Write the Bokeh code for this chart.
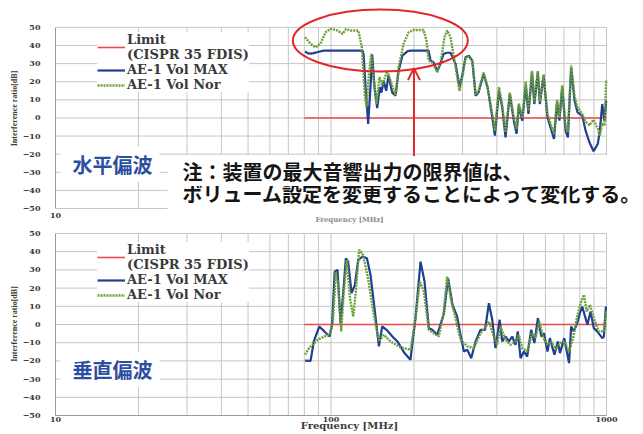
import math
from bokeh.plotting import figure
from bokeh.models import (Range1d, FixedTicker, PrintfTickFormatter, Legend, LegendItem,
                          Label, Arrow, OpenHead)
from bokeh.layouts import column
from bokeh.embed import file_html
from bokeh.resources import INLINE

# ---------------- data ----------------
y_ticks = [-50, -40, -30, -20, -10, 0, 10, 20, 30, 40, 50]
x_ticks = [10, 100, 1000]
grid_freqs = [20, 30, 40, 50, 60, 70, 80, 90, 100, 200, 300, 400, 500, 600, 700, 800, 900, 1000]

limit_freq = [80, 1000]
limit_val = [0, 0]

# 水平偏波 (horizontal polarisation)
h_max_freq = [80.5, 82.2, 84.3, 86.5, 88.9, 94.0, 130.2, 131.3, 133.5, 136.4, 139.1, 141.1, 143.8, 147.1,
              150.4, 152.5, 155.1, 158.6, 161.7, 166.8, 171.5, 175.9, 181.5, 189.3, 194.4, 225.9, 229.7,
              235.5, 242.9, 249.7, 256.1, 264.0, 271.5, 283.1, 292.7, 299.4, 307.8, 316.5, 325.6, 334.8,
              343.3, 357.8, 370.0, 384.8, 393.3, 407.0, 418.2, 430.0, 445.6, 460.8, 471.4, 480.6, 494.6,
              509.0, 520.8, 536.4, 547.0, 563.2, 572.7, 590.8, 610.5, 626.3, 644.6, 661.5, 674.5, 690.6,
              710.2, 723.9, 744.1, 765.2, 784.7, 816.4, 839.3, 866.6, 897.3, 929.3, 945.7, 964.6, 983.2, 997]
h_max_val = [36.8, 35.8, 35.5, 35.8, 36.3, 37.2, 37.2, 35, 17, -3.3, 17, 35, 17, 5.5, 17, 14, 20.6, 15,
             23.4, 14, 12.3, 26, 34.4, 36.8, 37.2, 37.2, 31.7, 30.8, 26, 30, 35.4, 36, 36, 30, 17, 23.4,
             33.5, 34.4, 31.7, 12.3, 14.2, 24.3, 17, 0.4, -9.8, 15.1, 5.9, -10.7, 13.3, -1.5, -8.8, 6.8,
             -1.5, 17.9, 2.2, 25.2, 7.7, 25.2, 7.7, 23.4, 0.4, -5.2, -11.6, 8.7, -1.5, 17, -7, -10.7, 28,
             9.6, 3.1, 1.3, -7, -13.4, -18.4, -14.4, -7, 7.7, -1.5, 9.6]
h_nor_freq = [80.5, 84.3, 87.9, 91.6, 95.6, 99.6, 105.5, 110.3, 113.2, 117.7, 125.6, 129.4, 132.7, 134.6,
              137.2, 139.9, 142.6, 146.3, 150.0, 153.4, 160.0, 164.4, 171.5, 175.9, 183.4, 191.3, 199.4,
              216.6, 222.1, 225.9, 232.9, 242.9, 249.7, 258.2, 264.0, 271.5, 283.1, 292.7, 300.0, 307.8,
              315.7, 326.4, 334.8, 343.3, 357.8, 370.0, 384.8, 393.3, 407.0, 418.2, 430.0, 445.6, 460.8,
              471.4, 480.6, 494.6, 509.0, 520.8, 536.4, 547.0, 563.2, 572.7, 590.8, 610.5, 626.3, 644.6,
              661.5, 674.5, 690.6, 710.2, 723.9, 744.1, 765.2, 784.7, 816.4, 839.3, 866.6, 897.3, 929.3,
              945.7, 964.6, 983.2, 997]
h_nor_val = [44.6, 40.9, 39, 41, 47.3, 49.2, 48.3, 46.4, 49, 48.3, 48.3, 39, 12.3, 6, 23.4, 35.4, 22.5,
             7.7, 22.5, 18, 26, 20.6, 12.3, 28, 41, 47.3, 48.6, 48.6, 42.7, 31.7, 30.8, 25.2, 30, 44.6,
             48.3, 44.6, 28, 15, 23, 33, 34, 31, 13, 15, 25, 17, 2, -7, 17, 7, -8, 14, 0, -6, 8, 0, 20, 4,
             26, 9, 26, 9, 24, 2, -3, -9, 10, 0, 18, -5, -8, 29, 12, 6, 2, -2, -4, -1, -6, -10, -3, -4, 21]

# 垂直偏波 (vertical polarisation)
v_max_freq = [80.5, 84.3, 86.6, 90.6, 94.6, 98.8, 100.9, 103.1, 105.6, 108.3, 110.8, 113.2, 115.4, 118.7,
              122.1, 125.5, 130.2, 135.0, 139.1, 143.8, 149.2, 153.4, 159.1, 167.0, 174.2, 184.8, 194.2,
              202.6, 211.3, 218.5, 226.5, 233.0, 243.0, 257.0, 266.0, 276.1, 286.8, 293.5, 303.6, 312.3,
              322.8, 334.8, 348.9, 362.3, 374.2, 384.8, 395.4, 409.3, 418.2, 430.0, 442.0, 454.7, 467.4,
              476.5, 487.4, 501.2, 515.1, 533.0, 547.0, 563.6, 580.0, 592.7, 610.5, 622.7, 647.0, 665.5,
              677.5, 702.2, 731.0, 744.1, 760.0, 782.4, 800.0, 816.4, 832.4, 852.4, 875.0, 899.0, 925.0,
              965.0, 978.0, 995]
v_max_val = [-19.9, -20, -9.3, -1.1, -3.8, -6.6, 0, 29, 30, 0.7, 18, 36.4, 34.5, 17.2, 21.8, 35.5, 37.3,
             36.4, 27.2, 9, -12, -1.1, -2.9, -6.6, -9.3, -15.7, -19.4, 3.5, 34.5, 23.6, -2, -2.9, -5.7,
             6.2, 25.4, 10.8, 4.4, -3.8, -14.8, -13.9, -18.5, -9.3, -2.9, -2.9, 11.7, 2.6, -13, 2.6, -9.3,
             -6.6, -9.3, -6.6, -11.2, -3.8, -18.5, -14.8, -17.6, -2.9, -10.2, 3.5, -6.6, -4.8, -14.8,
             -7.5, -16.6, -9.3, -15.7, -7.5, -21.2, -1.1, -3.8, 0.7, 6.2, 9.9, 5.3, 0, 7.1, -2, -3.8,
             -7.5, -6.6, 9.9]
v_nor_freq = [80.5, 83.2, 89.4, 94.6, 98.8, 101.6, 104.1, 106.2, 108.9, 111.3, 114.1, 117.2, 120.4, 123.0,
              126.5, 130.2, 133.9, 137.2, 143.0, 149.2, 155.5, 164.4, 178.8, 194.4, 202.6, 210.1, 217.3,
              226.5, 236.0, 246.0, 255.7, 264.0, 273.4, 283.1, 295.2, 312.3, 329.6, 348.9, 364.4, 374.2,
              388.1, 400.4, 412.4, 430.0, 448.3, 467.4, 480.6, 494.6, 515.1, 536.4, 553.0, 570.0, 590.8,
              610.5, 630.0, 653.0, 677.5, 702.2, 731.0, 756.0, 782.4, 804.8, 828.0, 847.0, 870.0, 899.0,
              937.0, 978.0, 995]
v_nor_val = [-16.6, -13, -8.4, -6.6, -5.7, 1.6, 29, 21.8, -3.8, 18.1, 35.5, 14.4, 4.4, 18, 41, 39, 30.9,
             22.7, 5.3, -9.3, -5.7, -9.3, -12.6, -13.9, 3.5, 23.6, 18, -2.9, -4.8, -6.6, 5.3, 26.3, 12.6,
             3.5, -8.4, -12, -13, -4.8, -1.1, 1.6, -5.7, -11.2, -1.1, -8.4, -11.2, -9.3, -5.7, -13, -14.8,
             -4.8, -7.5, 1.6, -7.5, -11.2, -9.3, -13.9, -10.2, -9.3, -14.8, -7.5, 4.4, 11.7, 16.3, 7.1,
             10.8, 3.5, -3.8, -3.8, 7.1]

legend_labels = ["Limit\n(CISPR 35 FDIS)", "AE-1 Vol MAX", "AE-1 Vol Nor"]
note_lines = ["注：装置の最大音響出力の限界値は、", "ボリューム設定を変更することによって変化する。"]

# ---------------- styles ----------------
RED = "#f0474a"
BLUE = "#1f3f93"
GREEN = "#6c9f35"
GRID = "#c6c6c6"
AXIS = "#9a9a9a"
TXT = "#3a3a3a"
JP_BLUE = "#2c4f9f"
SERIF = "DejaVu Serif"
JP = "Noto Sans CJK JP"
X_END = 1362  # frame runs on to the right edge of the page (note text overflows the axes box)


def build(p, max_f, max_v, nor_f, nor_v, pol_text, pol_y, legend_y):
    p.outline_line_color = None
    p.xgrid.visible = False
    p.ygrid.visible = False
    # grid lines (and box edges) limited to the 10-1000 MHz / -50..50 dB box
    p.segment(x0=grid_freqs, y0=[-50] * len(grid_freqs), x1=grid_freqs, y1=[50] * len(grid_freqs),
              line_color=GRID, line_width=1)
    p.segment(x0=[10] * len(y_ticks), y0=y_ticks, x1=[1000] * len(y_ticks), y1=y_ticks,
              line_color=GRID, line_width=1)

    p.yaxis.ticker = FixedTicker(ticks=y_ticks)
    p.yaxis.bounds = (-50, 50)
    p.xaxis.bounds = (10, 1000)
    p.xaxis.formatter = PrintfTickFormatter(format="%d")
    for ax in (p.xaxis, p.yaxis):
        ax.axis_line_color = AXIS
        ax.major_tick_line_color = None
        ax.minor_tick_line_color = None
        ax.major_tick_out = 0
        ax.major_tick_in = 0
        ax.major_label_text_font = SERIF
        ax.major_label_text_font_style = "bold"
        ax.major_label_text_font_size = "8px"
        ax.major_label_text_color = TXT
        ax.axis_label_text_font_style = "bold"
        ax.axis_label_text_color = TXT
    p.yaxis.major_label_standoff = 15
    p.yaxis.axis_label = "Interference ratio[dB]"
    p.yaxis.axis_label_text_font = "Liberation Serif"
    p.yaxis.axis_label_text_font_size = "8px"
    p.yaxis.axis_label_standoff = 1
    p.xaxis.axis_label = "Frequency [MHz]"
    p.xaxis.axis_label_text_font = SERIF

    r_lim = p.line(limit_freq, limit_val, line_color=RED, line_width=1.6)
    r_max = p.line(max_f, max_v, line_color=BLUE, line_width=2.2)
    r_nor = p.line(nor_f, nor_v, line_color=GREEN, line_width=2.4, line_dash="2 1")

    legend = Legend(items=[LegendItem(label=legend_labels[0], renderers=[r_lim]),
                           LegendItem(label=legend_labels[1], renderers=[r_max]),
                           LegendItem(label=legend_labels[2], renderers=[r_nor])],
                    location=(42, legend_y), background_fill_color="white", background_fill_alpha=1.0,
                    border_line_color=None, label_text_font=SERIF, label_text_font_style="bold",
                    label_text_font_size="13px", label_text_color=TXT, label_text_line_height=0.9,
                    label_height=12, glyph_width=28, glyph_height=10, label_standoff=2,
                    spacing=0, padding=4, margin=0)
    p.add_layout(legend)

    p.add_layout(Label(x=5, y=pol_y, x_units="screen", y_units="data", text=pol_text,
                       text_align="left", text_baseline="middle", text_font=JP,
                       text_font_style="bold", text_font_size="20px", text_color=JP_BLUE,
                       background_fill_color="white", background_fill_alpha=1.0,
                       padding=dict(left=12, right=7, top=3, bottom=3)))


# ---- top panel (水平偏波): frame reaches above the axes box so the ellipse fits ----
p1 = figure(width=643, height=226, x_axis_type="log",
            x_range=Range1d(10, X_END), y_range=Range1d(-52.2, 62.64),
            output_backend="svg", toolbar_location=None,
            min_border_left=55, min_border_right=0, min_border_top=4, min_border_bottom=13,
            background_fill_color="white", border_fill_color="white")
p1.xaxis.ticker = FixedTicker(ticks=[x_ticks[0]], minor_ticks=[])
build(p1, h_max_freq, h_max_val, h_nor_freq, h_nor_val, "水平偏波", -25.5, 120)
p1.xaxis.axis_line_color = None
p1.xaxis.major_label_standoff = 0
p1.xaxis.axis_label_text_font_size = "7px"
p1.xaxis.axis_label_text_color = "#8a8a8a"
p1.xaxis.axis_label_standoff = -6

p1.ellipse(x=[151], y=[42.7], width=[175], height=[62], width_units="screen", height_units="screen",
           fill_color=None, line_color="#e3262b", line_width=2)

# note (second line first so the first line's glyphs stay on top)
p1.add_layout(Label(x=112, y=15, x_units="screen", y_units="screen", text=note_lines[1],
                    text_align="left", text_baseline="middle", text_font=JP,
                    text_font_style="bold", text_font_size="20px", text_color="#151515",
                    background_fill_color="white", background_fill_alpha=1.0,
                    padding=dict(left=15, right=20, top=0, bottom=8)))
p1.add_layout(Label(x=112, y=42, x_units="screen", y_units="screen", text=note_lines[0],
                    text_align="left", text_baseline="middle", text_font=JP,
                    text_font_style="bold", text_font_size="20px", text_color="#151515",
                    background_fill_color="white", background_fill_alpha=1.0,
                    padding=dict(left=15, right=130, top=2, bottom=0)))

p1.add_layout(Arrow(end=OpenHead(size=12, line_color="#e3262b", line_width=2),
                    x_start=200, y_start=-21, x_end=200, y_end=27.5,
                    line_color="#e3262b", line_width=2))

# ---- bottom panel (垂直偏波) ----
p2 = figure(width=643, height=208, x_axis_type="log",
            x_range=Range1d(10, X_END), y_range=Range1d(-50, 50.55),
            output_backend="svg", toolbar_location=None,
            min_border_left=55, min_border_right=0, min_border_top=6, min_border_bottom=19,
            background_fill_color="white", border_fill_color="white")
p2.xaxis.ticker = FixedTicker(ticks=x_ticks, minor_ticks=[])
build(p2, v_max_freq, v_max_val, v_nor_freq, v_nor_val, "垂直偏波", -24.7, 113)
p2.xaxis.major_label_standoff = 1
p2.xaxis.axis_label_text_font_size = "10px"
p2.xaxis.axis_label_standoff = -5

layout = column(p1, p2, spacing=0)
open("out.html", "w").write(file_html(layout, INLINE))
